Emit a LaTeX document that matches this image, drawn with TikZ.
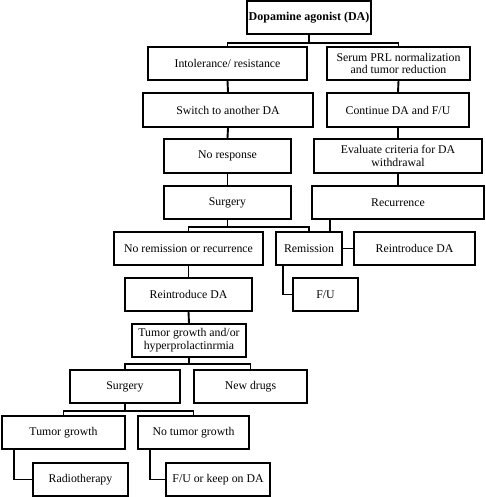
\documentclass[tikz,border=0pt]{standalone}
\usepackage{fontspec}
\setmainfont{Liberation Serif}
\begin{document}
\begin{tikzpicture}[x=1pt,y=-1pt,
  box/.style={draw, line width=1.9pt, inner sep=0pt, align=center, font=\fontsize{11.8}{12.8}\selectfont, minimum height=33pt},
  conn/.style={line width=1.9pt}]
\useasboundingbox (0,0) rectangle (486,497);
\node[box, minimum width=124pt, font=\fontsize{12}{12}\selectfont\bfseries] (da) at (309,17.5) {Dopamine agonist (DA)};
\node[box, minimum width=159pt] (intol) at (227.5,63.5) {Intolerance/ resistance};
\node[box, minimum width=143pt] (serum) at (398.5,63.5) {Serum PRL normalization\\and tumor reduction};
\node[box, minimum width=170pt, minimum height=34pt] (switch) at (228,110) {Switch to another DA};
\node[box, minimum width=142pt, minimum height=34pt] (cont) at (398,110) {Continue DA and F/U};
\node[box, minimum width=127pt, minimum height=34pt] (noresp) at (227.5,156) {No response};
\node[box, minimum width=168pt, minimum height=34pt] (eval) at (398,156) {Evaluate criteria for DA\\withdrawal};
\node[box, minimum width=127pt] (surg1) at (227.5,202.5) {Surgery};
\node[box, minimum width=172pt] (recur) at (398,202.5) {Recurrence};
\node[box, minimum width=149pt] (norem) at (188.5,248.5) {No remission or recurrence};
\node[box, minimum width=66pt] (remis) at (309,248.5) {Remission};
\node[box, minimum width=121pt] (reintR) at (414.5,248.5) {Reintroduce DA};
\node[box, minimum width=127pt] (reintL) at (188.5,294.5) {Reintroduce DA};
\node[box, minimum width=65pt] (fu) at (325.5,294.5) {F/U};
\node[box, minimum width=114pt] (tg) at (189,340.5) {Tumor growth and/or\\hyperprolactinrmia};
\node[box, minimum width=110pt] (surg2) at (125,386.5) {Surgery};
\node[box, minimum width=113pt] (newd) at (250.5,386.5) {New drugs};
\node[box, minimum width=123pt] (tgr) at (63.5,432.5) {Tumor growth};
\node[box, minimum width=111pt] (notg) at (193.5,432.5) {No tumor growth};
\node[box, minimum width=95pt] (radio) at (80.5,479.5) {Radiotherapy};
\node[box, minimum width=104pt] (fukeep) at (218,479.5) {F/U or keep on DA};
% connectors
\draw[conn] (da.south) -- ++(0,8) coordinate (b1);
\draw[conn] (intol.north) |- (b1) -| (serum.north);
\draw[conn] (intol.south) -- (switch.north);
\draw[conn] (switch.south) -- (noresp.north);
\draw[conn] (noresp.south) -- (surg1.north);
\draw[conn] (serum.south) -- (cont.north);
\draw[conn] (cont.south) -- (eval.north);
\draw[conn] (eval.south) -- (recur.north);
\draw[conn] (surg1.south) -- ++(0,7) coordinate (b2);
\draw[conn] (norem.north) |- (b2) -| (remis.north);
\draw[conn] ([xshift=21pt]remis.north) -- ([xshift=21pt]remis.north |- recur.south);
\draw[conn] (remis.east) -- (reintR.west);
\draw[conn] ([xshift=-26pt]remis.south) |- (fu.west);
\draw[conn] (norem.south) -- (reintL.north);
\draw[conn] (reintL.south) -- (tg.north);
\draw[conn] (tg.south) -- ++(0,6) coordinate (b3);
\draw[conn] (surg2.north) |- (b3) -| (newd.north);
\draw[conn] (surg2.south) -- ++(0,7) coordinate (b4);
\draw[conn] (tgr.north) |- (b4) -| (notg.north);
\draw[conn] ([xshift=-49.5pt]tgr.south) |- (radio.west);
\draw[conn] ([xshift=-43.5pt]notg.south) |- (fukeep.west);
\end{tikzpicture}
\end{document}
